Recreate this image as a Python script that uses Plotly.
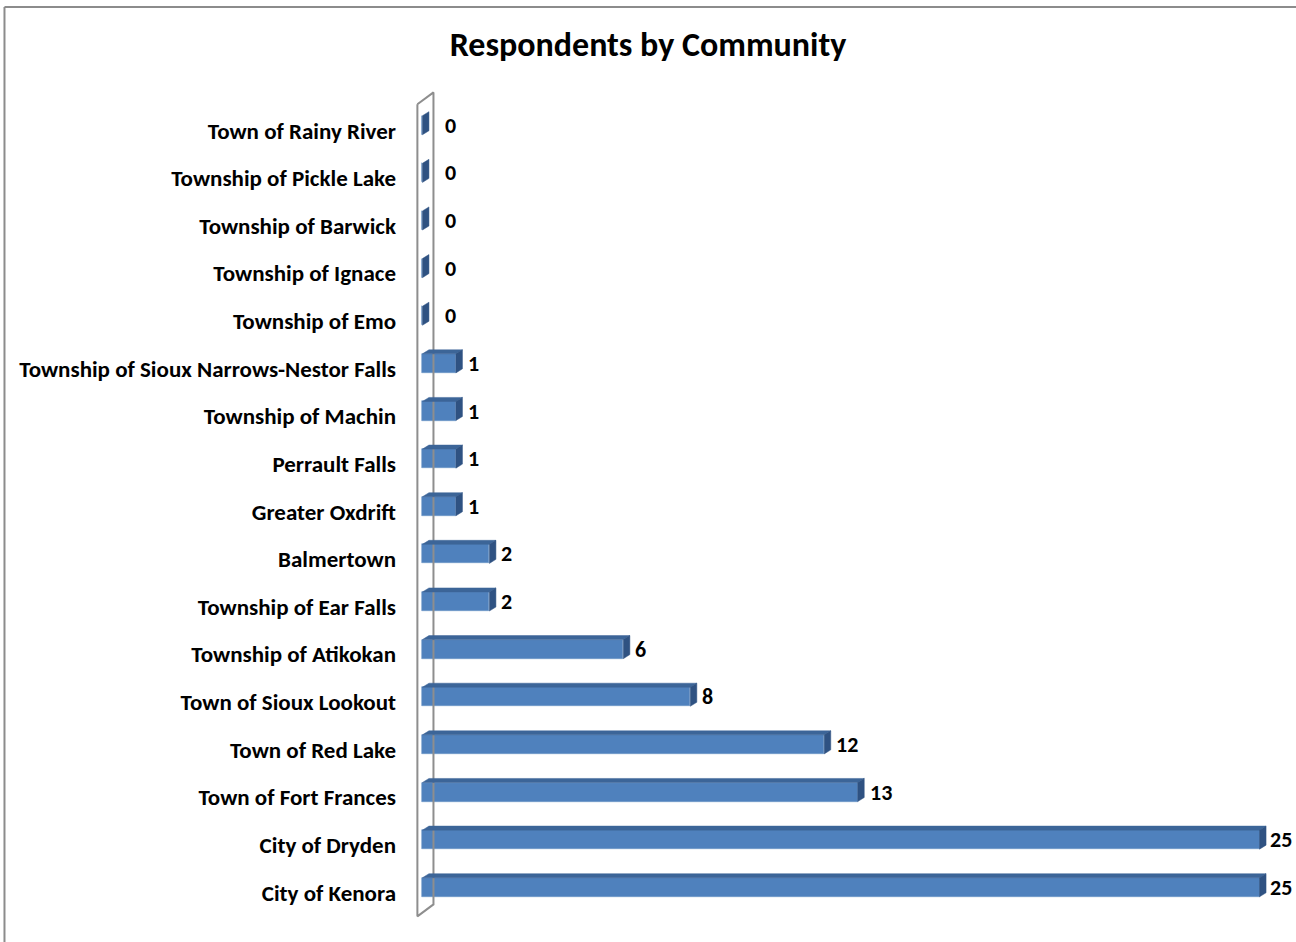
import plotly.graph_objects as go

# Communities listed top to bottom, with respondent counts
communities = [
    "Town of Rainy River", "Township of Pickle Lake", "Township of Barwick",
    "Township of Ignace", "Township of Emo", "Township of Sioux Narrows-Nestor Falls",
    "Township of Machin", "Perrault Falls", "Greater Oxdrift", "Balmertown",
    "Township of Ear Falls", "Township of Atikokan", "Town of Sioux Lookout",
    "Town of Red Lake", "Town of Fort Frances", "City of Dryden", "City of Kenora",
]
respondents = [0, 0, 0, 0, 0, 1, 1, 1, 1, 2, 2, 6, 8, 12, 13, 25, 25]

FONT = "Carlito, Lato, sans-serif"
FRONT = "#4F81BD"
TOP = "#3C6598"
SIDE = "#2F5282"
WALL = "#8E8E8E"

# pseudo-3D geometry in axis units
BAR_H = 0.40          # bar thickness (category units)
LIFT = 0.11           # bars sit slightly above their category line
DX, DY = 0.195, -0.085  # depth offset of the top/side faces

idx = list(range(len(communities)))
centers = [i - LIFT for i in idx]

fig = go.Figure()

# back wall of the 3D plot area
wx0, wx1 = -0.15, 0.33
wy_top_front, wy_bot_front = -0.55, 16.5
wskew = -0.25
fig.add_trace(go.Scatter(
    x=[wx0, wx0, wx1, wx1, wx0],
    y=[wy_top_front, wy_bot_front, wy_bot_front + wskew, wy_top_front + wskew, wy_top_front],
    mode="lines", line=dict(color=WALL, width=2), fill="toself",
    fillcolor="rgba(255,255,255,0)", hoverinfo="skip", showlegend=False,
))

# top and side faces of each bar
for v, c in zip(respondents, centers):
    yt, yb = c - BAR_H / 2, c + BAR_H / 2
    if v > 0:
        fig.add_trace(go.Scatter(
            x=[0, v, v + DX, DX, 0], y=[yt, yt, yt + DY, yt + DY, yt],
            mode="lines", line=dict(color=TOP, width=0.5), fill="toself",
            fillcolor=TOP, hoverinfo="skip", showlegend=False,
        ))
    fig.add_trace(go.Scatter(
        x=[v, v + DX, v + DX, v, v], y=[yt, yt + DY, yb + DY, yb, yt],
        mode="lines", line=dict(color=SIDE, width=0.5), fill="toself",
        fillcolor=SIDE, hoverinfo="skip", showlegend=False,
    ))

# front faces
fig.add_trace(go.Bar(
    x=respondents, y=centers, orientation="h", width=BAR_H,
    marker=dict(color=FRONT, line=dict(color="#6F97C8", width=0.6)),
    hoverinfo="x", showlegend=False,
))

# value labels
for v, c in zip(respondents, centers):
    fig.add_annotation(
        x=v, y=c, text=str(v), showarrow=False, xanchor="left", yanchor="middle",
        xshift=21 if v == 0 else (8 if v >= 20 else 10),
        font=dict(family=FONT, size=22, color="black", weight="bold"),
    )

# chart border (top and left edges)
fig.add_shape(type="line", xref="paper", yref="paper",
              x0=-0.4494, x1=1.05, y0=1.0985, y1=1.0985,
              line=dict(color="#8C8C8C", width=2))
fig.add_shape(type="line", xref="paper", yref="paper",
              x0=-0.4494, x1=-0.4494, y0=1.0985, y1=-0.05,
              line=dict(color="#8C8C8C", width=2))

fig.update_layout(
    width=1296, height=942,
    margin=dict(l=404, r=3, t=90, b=9),
    paper_bgcolor="white", plot_bgcolor="white",
    bargap=0,
    title=dict(text="Respondents by Community", x=0.5, xref="container",
               xanchor="center", y=0.953, yanchor="middle",
               font=dict(family=FONT, size=34, color="black", weight="bold")),
    xaxis=dict(range=[-0.55, 26.0], visible=False, fixedrange=True),
    yaxis=dict(range=[16.85, -0.85], tickvals=idx, ticktext=communities,
               showgrid=False, zeroline=False, showline=False, ticks="",
               ticklabelstandoff=7,
               tickfont=dict(family=FONT, size=23, color="black", weight="bold")),
)

fig.write_html("out.html")
